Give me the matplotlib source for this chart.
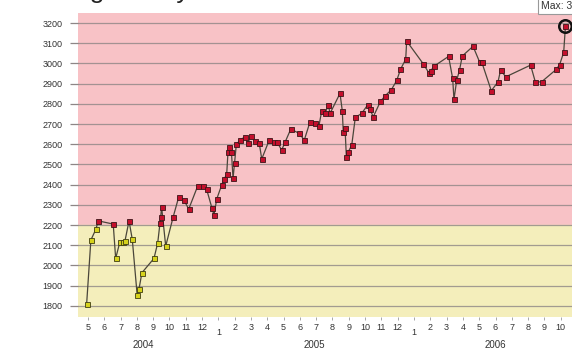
import matplotlib
matplotlib.use("Agg")
import matplotlib.pyplot as plt
import matplotlib.transforms as mtransforms

plt.rcParams['font.family'] = ['Liberation Sans', 'DejaVu Sans']

# month position: 5 = May 2004, 13 = Jan 2005, 25 = Jan 2006
month_pos = [4.92, 5.18, 5.49, 5.63, 6.55, 6.70, 6.96, 7.13, 7.27, 7.52,
             7.72, 8.02, 8.13, 8.31, 9.05, 9.28, 9.42, 9.46, 9.52, 9.77,
             10.23, 10.56, 10.89, 11.18, 11.73, 12.07, 12.28, 12.61, 12.73, 12.90,
             13.20, 13.34, 13.51, 13.59, 13.68, 13.80, 13.90, 13.99, 14.10, 14.33,
             14.63, 14.80, 15.00, 15.25, 15.51, 15.66, 16.12, 16.41, 16.60, 16.88,
             17.10, 17.44, 17.96, 18.27, 18.62, 18.93, 19.17, 19.34, 19.54, 19.74,
             19.85, 20.46, 20.60, 20.66, 20.77, 20.85, 20.97, 21.18, 21.40, 21.79,
             22.15, 22.30, 22.50, 22.94, 23.22, 23.61, 23.94, 24.17, 24.49, 24.55,
             25.57, 25.90, 26.04, 26.23, 27.12, 27.37, 27.45, 27.62, 27.79, 27.96,
             28.62, 29.02, 29.15, 29.74, 30.15, 30.31, 30.63, 32.15, 32.44, 32.82,
             33.73, 33.93, 34.18, 34.29]
rating = [1810, 2126, 2180, 2221, 2205, 2035, 2117, 2117, 2121, 2221,
          2129, 1853, 1883, 1964, 2035, 2112, 2211, 2241, 2288, 2096,
          2241, 2337, 2324, 2279, 2393, 2395, 2377, 2283, 2250, 2329,
          2398, 2426, 2451, 2563, 2588, 2563, 2431, 2505, 2599, 2621,
          2637, 2604, 2642, 2617, 2604, 2527, 2621, 2609, 2612, 2571,
          2612, 2675, 2654, 2621, 2711, 2703, 2692, 2766, 2753, 2794,
          2753, 2852, 2766, 2662, 2679, 2538, 2563, 2596, 2733, 2753,
          2794, 2773, 2736, 2812, 2839, 2870, 2916, 2971, 3021, 3111,
          2998, 2955, 2965, 2987, 3035, 2926, 2822, 2918, 2967, 3037,
          3085, 3008, 3008, 2865, 2909, 2967, 2934, 2992, 2909, 2909,
          2971, 2994, 3055, 3188]

threshold = 2200
month_ticks = list(range(5, 35))
month_labels = [str((m - 1) % 12 + 1) for m in month_ticks]
year_pos = [8.4, 18.9, 30.0]
year_labels = ['2004', '2005', '2006']
y_ticks = list(range(1800, 3300, 100))

fig = plt.figure(figsize=(5.72, 3.54), dpi=100)
ax = fig.add_axes([78/572, 1 - 317/354, 1 - 78/572, 304/354])
ax.set_xlim(4.39, 34.69)
ax.set_ylim(1745, 3250)

ax.axhspan(threshold, 3250, color='#f8c2c6', zorder=0)
ax.axhspan(1745, threshold, color='#f4eebb', zorder=0)
for y in y_ticks:
    ax.axhline(y, color='#8e8686', lw=0.9, alpha=0.8, zorder=1)

ax.plot(month_pos, rating, color='#4a463a', lw=0.9, zorder=2)
hi = [(x, y) for x, y in zip(month_pos, rating) if y > threshold]
lo = [(x, y) for x, y in zip(month_pos, rating) if y <= threshold]
ax.plot([p[0] for p in hi], [p[1] for p in hi], 's', ms=3.6,
        mfc='#c40f2c', mec='#3c1418', mew=0.6, zorder=3, ls='none')
ax.plot([p[0] for p in lo], [p[1] for p in lo], 's', ms=3.6,
        mfc='#d6d21c', mec='#3f3d10', mew=0.6, zorder=3, ls='none')

# ring around the maximum
imax = rating.index(max(rating))
ax.plot(month_pos[imax], rating[imax], 'o', ms=9, mfc='none', mec='#111111',
        mew=1.8, zorder=4, clip_on=False)

for s in ax.spines.values():
    s.set_visible(False)

ax.set_yticks(y_ticks)
ax.set_yticklabels([str(v) for v in y_ticks])
ax.tick_params(axis='y', length=6, width=0.9, color='#8e8686', pad=5,
               labelsize=6.5, labelcolor='#333333')

ax.set_xticks(month_ticks)
ax.set_xticklabels(month_labels)
ax.tick_params(axis='x', length=2.5, width=0.6, color='#999999', pad=1.5,
               labelsize=6.5, labelcolor='#333333')
shift = mtransforms.ScaledTranslation(0, -5/100, fig.dpi_scale_trans)
for lab in ax.get_xticklabels():
    if lab.get_text() == '1':
        lab.set_transform(lab.get_transform() + shift)

trans = mtransforms.blended_transform_factory(ax.transData, ax.transAxes)
for xp, lab in zip(year_pos, year_labels):
    ax.text(xp, -0.092, lab, transform=trans, ha='center', va='center',
            fontsize=7, color='#333333')

# title sits above the top edge, only its descenders show
fig.text(28/572, 1.0 + 2.5/354, 'Rating history', fontsize=19, color='#222222',
         ha='left', va='baseline')
fig.text(541/572, 1 - 6/354, 'Max: 3188', fontsize=7.5, color='#333333',
         ha='left', va='center',
         bbox=dict(boxstyle='square,pad=0.3', fc='white', ec='#999999', lw=0.8))

fig.savefig('out.png', dpi=100)
